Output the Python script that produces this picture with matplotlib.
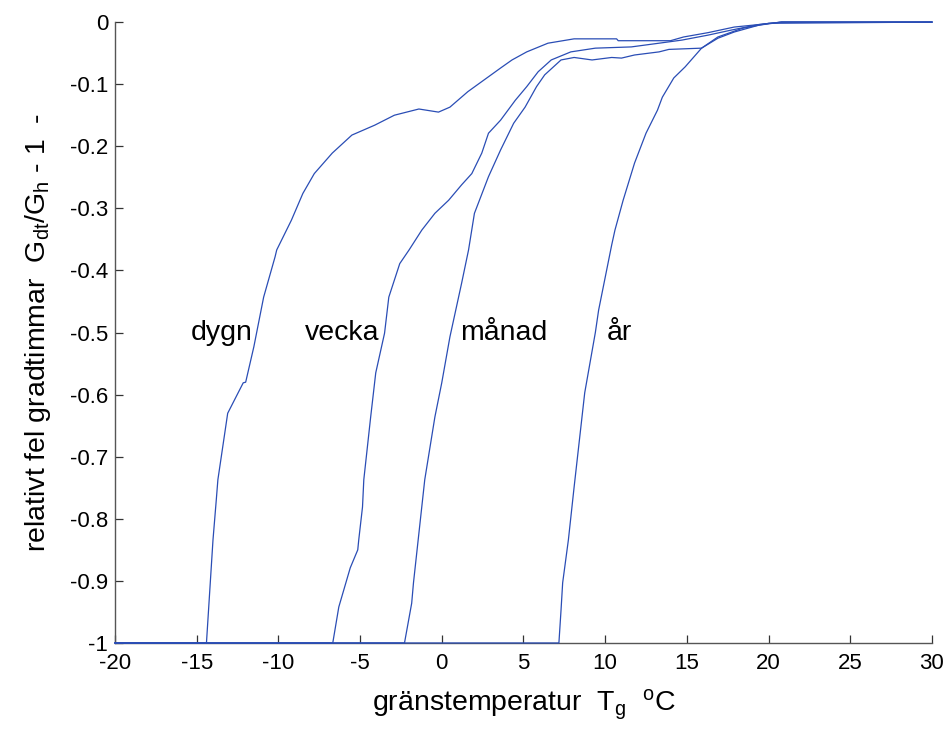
import matplotlib
matplotlib.use("Agg")
import matplotlib.pyplot as plt

plt.rcParams['font.family'] = ['Liberation Sans', 'DejaVu Sans']
plt.rcParams['mathtext.default'] = 'regular'

# curves (temperature, relative error)
dygn_x = [-20, -14.4, -14.0, -13.8, -13.7, -13.1, -12.15, -12.0, -11.5, -10.9, -10.2, -10.1,
          -9.2, -8.5, -7.8, -6.7, -5.5, -4.1, -2.9, -1.4, -0.2, 0.5, 1.6, 3.6, 4.3, 5.2,
          6.5, 8.1, 10.7, 10.8, 14.0, 14.8, 16.3, 17.9, 19.4, 20.8, 30]
dygn_y = [-1, -1, -0.834, -0.77, -0.737, -0.63, -0.581, -0.58, -0.523, -0.443, -0.378, -0.367,
          -0.319, -0.276, -0.244, -0.211, -0.182, -0.166, -0.150, -0.140, -0.145, -0.137, -0.112,
          -0.074, -0.061, -0.048, -0.034, -0.027, -0.027, -0.030, -0.030, -0.024, -0.017,
          -0.008, -0.004, 0, 0]

vecka_x = [-20, -6.67, -6.3, -5.6, -5.14, -5.08, -4.85, -4.77, -4.35, -4.04, -3.5, -3.24,
           -2.57, -2.0, -1.22, -0.42, 0.42, 1.22, 1.84, 2.45, 2.86, 3.6, 4.5, 5.2, 5.9, 6.7,
           7.9, 9.4, 11.6, 13.3, 14.7, 16.3, 17.7, 19.4, 20.8, 30]
vecka_y = [-1, -1, -0.942, -0.879, -0.850, -0.834, -0.781, -0.737, -0.636, -0.565, -0.501,
           -0.443, -0.389, -0.367, -0.335, -0.308, -0.287, -0.262, -0.244, -0.211, -0.179,
           -0.158, -0.126, -0.104, -0.080, -0.061, -0.048, -0.042, -0.040, -0.034, -0.029,
           -0.021, -0.013, -0.004, 0, 0]

manad_x = [-20, -2.28, -1.84, -1.73, -1.04, -0.42, 0, 0.5, 1.22, 1.64, 2.0, 2.86, 3.6, 4.4,
           5.1, 5.8, 6.3, 7.3, 8.1, 9.2, 10.4, 11.0, 11.8, 13.3, 13.9, 15.9, 16.9, 17.9,
           19.4, 20.8, 30]
manad_y = [-1, -1, -0.936, -0.903, -0.737, -0.636, -0.581, -0.507, -0.420, -0.367, -0.308,
           -0.249, -0.206, -0.163, -0.137, -0.104, -0.085, -0.061, -0.057, -0.061, -0.057,
           -0.058, -0.053, -0.048, -0.044, -0.042, -0.026, -0.016, -0.005, 0, 0]

ar_x = [-20, 7.17, 7.3, 7.4, 7.75, 8.1, 8.75, 9.4, 9.6, 10.4, 10.6, 11.1, 11.8, 12.5, 13.2,
        13.5, 14.2, 14.9, 15.9, 16.9, 18.4, 20.0, 30]
ar_y = [-1, -1, -0.947, -0.903, -0.834, -0.749, -0.597, -0.5, -0.464, -0.359, -0.335, -0.287,
        -0.227, -0.179, -0.142, -0.121, -0.090, -0.072, -0.042, -0.024, -0.010, -0.002, 0]

# curve labels and where they sit
labels = ['dygn', 'vecka', 'månad', 'år']
label_x = [-13.46, -6.1, 3.8, 10.9]
label_y = [-0.5, -0.5, -0.5, -0.5]

xticks = [-20, -15, -10, -5, 0, 5, 10, 15, 20, 25, 30]
yticks = [0, -0.1, -0.2, -0.3, -0.4, -0.5, -0.6, -0.7, -0.8, -0.9, -1]
ytick_labels = ['0', '-0.1', '-0.2', '-0.3', '-0.4', '-0.5', '-0.6', '-0.7', '-0.8', '-0.9', '-1']

line_col = '#2a4db5'

fig = plt.figure(figsize=(9.5, 7.36), dpi=100)
ax = fig.add_axes([0.121, 0.1264, 0.86, 0.8436])

for xs, ys in [(dygn_x, dygn_y), (vecka_x, vecka_y), (manad_x, manad_y), (ar_x, ar_y)]:
    ax.plot(xs, ys, color=line_col, lw=0.9, clip_on=False, zorder=3)

for t, lx, ly in zip(labels, label_x, label_y):
    ax.text(lx, ly, t, fontsize=20.5, ha='center', va='center')

ax.set_xlim(-20, 30)
ax.set_ylim(-1, 0)
ax.set_xticks(xticks)
ax.set_xticklabels([str(v) for v in xticks])
ax.set_yticks(yticks)
ax.set_yticklabels(ytick_labels)

for s in ['top', 'right']:
    ax.spines[s].set_visible(False)
for s in ['left', 'bottom']:
    ax.spines[s].set_color('#555555')
    ax.spines[s].set_linewidth(1.0)
ax.tick_params(direction='in', length=6, width=0.9, color='#333333', labelsize=16)
ax.tick_params(axis='x', pad=7)
ax.tick_params(axis='y', pad=5)

ax.set_xlabel(r'gränstemperatur  $T_g$  $^oC$', fontsize=20.5, labelpad=10)
ax.set_ylabel(r'relativt fel gradtimmar  $G_{dt}/G_h$ - 1  -', fontsize=20.5, labelpad=12)

fig.savefig('out.png', dpi=100)
